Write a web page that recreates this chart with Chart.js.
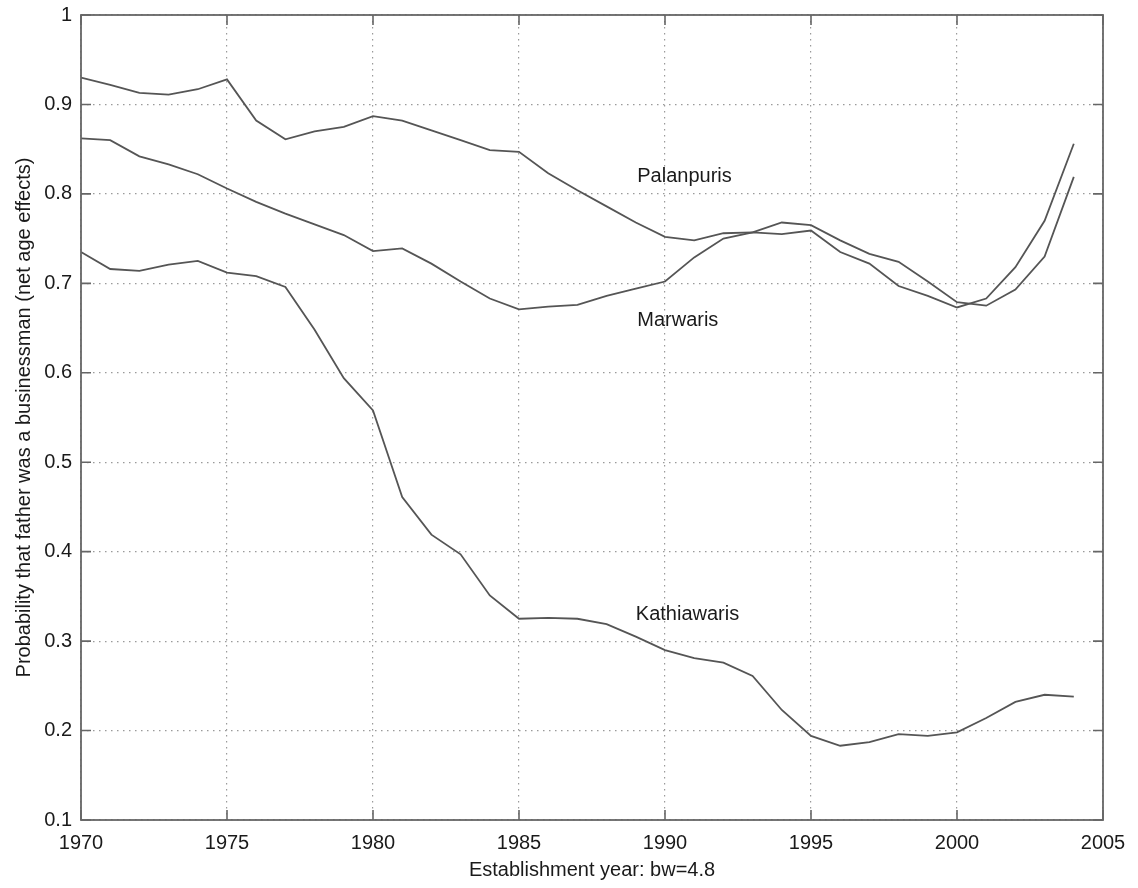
<!DOCTYPE html>
<html>
<head>
<meta charset="utf-8">
<script src="https://cdn.jsdelivr.net/npm/chart.js@4"></script>
<style>
  html, body { margin: 0; padding: 0; background: #fff; }
  #wrap { width: 1138px; height: 888px; }
</style>
</head>
<body>
<div id="wrap"><canvas id="chart" width="1138" height="888"></canvas></div>
<script>
// establishment years on the x axis
const years = [1970, 1971, 1972, 1973, 1974, 1975, 1976, 1977, 1978, 1979,
               1980, 1981, 1982, 1983, 1984, 1985, 1986, 1987, 1988, 1989,
               1990, 1991, 1992, 1993, 1994, 1995, 1996, 1997, 1998, 1999,
               2000, 2001, 2002, 2003, 2004];

// probability that father was a businessman
const palanpuris = [0.930, 0.922, 0.913, 0.911, 0.917, 0.928, 0.882, 0.861, 0.870, 0.875,
                    0.887, 0.882, 0.871, 0.860, 0.849, 0.847, 0.823, 0.804, 0.786, 0.768,
                    0.752, 0.748, 0.756, 0.757, 0.755, 0.759, 0.735, 0.722, 0.697, 0.686,
                    0.673, 0.683, 0.718, 0.770, 0.856];
const marwaris = [0.862, 0.860, 0.842, 0.833, 0.822, 0.806, 0.791, 0.778, 0.766, 0.754,
                  0.736, 0.739, 0.722, 0.702, 0.683, 0.671, 0.674, 0.676, 0.686, 0.694,
                  0.702, 0.729, 0.750, 0.757, 0.768, 0.765, 0.748, 0.733, 0.724, 0.702,
                  0.679, 0.675, 0.693, 0.730, 0.819];
const kathiawaris = [0.735, 0.716, 0.714, 0.721, 0.725, 0.712, 0.708, 0.696, 0.648, 0.594,
                     0.558, 0.461, 0.419, 0.397, 0.351, 0.325, 0.326, 0.325, 0.319, 0.305,
                     0.290, 0.281, 0.276, 0.261, 0.223, 0.194, 0.183, 0.187, 0.196, 0.194,
                     0.198, 0.214, 0.232, 0.240, 0.238];

// text labels placed next to each curve (data units)
const labelNames = ['Palanpuris', 'Marwaris', 'Kathiawaris'];
const labelX = [1989.05, 1989.05, 1989.0];
const labelY = [0.819, 0.659, 0.330];

const xTicks = [1970, 1975, 1980, 1985, 1990, 1995, 2000, 2005];
const yTicks = [0.1, 0.2, 0.3, 0.4, 0.5, 0.6, 0.7, 0.8, 0.9, 1];

const lineColor = '#555555';
const textColor = '#1a1a1a';
const fontFamily = '"Liberation Sans", Arial, Helvetica, sans-serif';

function toPoints(vals) {
    return years.map((yr, i) => ({ x: yr, y: vals[i] }));
}

function makeSet(name, vals) {
    return {
        label: name,
        data: toPoints(vals),
        borderColor: lineColor,
        borderWidth: 1.8,
        pointRadius: 0,
        tension: 0,
        fill: false
    };
}

// MATLAB-like frame: box on all sides with inward tick marks
const framePlugin = {
    id: 'frame',
    afterDatasetsDraw(chart) {
        const { ctx, chartArea: a, scales } = chart;
        const len = 10;
        ctx.save();
        ctx.strokeStyle = '#666666';
        ctx.lineWidth = 1.6;
        ctx.beginPath();
        xTicks.forEach(v => {
            const px = scales.x.getPixelForValue(v);
            ctx.moveTo(px, a.bottom); ctx.lineTo(px, a.bottom - len);
            ctx.moveTo(px, a.top); ctx.lineTo(px, a.top + len);
        });
        yTicks.forEach(v => {
            const py = scales.y.getPixelForValue(v);
            ctx.moveTo(a.left, py); ctx.lineTo(a.left + len, py);
            ctx.moveTo(a.right, py); ctx.lineTo(a.right - len, py);
        });
        ctx.stroke();
        ctx.lineWidth = 1.8;
        ctx.strokeRect(a.left, a.top, a.right - a.left, a.bottom - a.top);

        // curve labels
        ctx.fillStyle = textColor;
        ctx.font = '20px ' + fontFamily;
        ctx.textAlign = 'left';
        ctx.textBaseline = 'middle';
        labelNames.forEach((t, i) => {
            ctx.fillText(t, scales.x.getPixelForValue(labelX[i]), scales.y.getPixelForValue(labelY[i]));
        });
        ctx.restore();
    }
};

const ctx = document.getElementById('chart').getContext('2d');
new Chart(ctx, {
    type: 'line',
    data: {
        datasets: [
            makeSet('Palanpuris', palanpuris),
            makeSet('Marwaris', marwaris),
            makeSet('Kathiawaris', kathiawaris)
        ]
    },
    options: {
        responsive: false,
        animation: false,
        devicePixelRatio: 1,
        layout: { padding: { left: 0, right: 35, top: 15, bottom: 0 } },
        plugins: {
            legend: { display: false },
            tooltip: { enabled: false }
        },
        scales: {
            x: {
                type: 'linear',
                min: 1970,
                max: 2005,
                afterBuildTicks: s => { s.ticks = xTicks.map(v => ({ value: v })); },
                afterFit: s => { s.height = 68; },
                grid: { color: '#9a9a9a', lineWidth: 1.2, drawTicks: false },
                border: { display: false, dash: [1.5, 4.5] },
                ticks: {
                    color: textColor,
                    padding: 11,
                    maxRotation: 0,
                    font: { family: fontFamily, size: 20 },
                    callback: v => String(v)
                },
                title: {
                    display: true,
                    text: 'Establishment year: bw=4.8',
                    color: textColor,
                    font: { family: fontFamily, size: 20 },
                    padding: { top: 0, bottom: 6 }
                }
            },
            y: {
                type: 'linear',
                min: 0.1,
                max: 1,
                afterBuildTicks: s => { s.ticks = yTicks.map(v => ({ value: v })); },
                afterFit: s => { s.width = 81; s.paddingTop = 0; s.paddingBottom = 0; },
                grid: { color: '#9a9a9a', lineWidth: 1.2, drawTicks: false },
                border: { display: false, dash: [1.5, 4.5] },
                ticks: {
                    color: textColor,
                    padding: 9,
                    font: { family: fontFamily, size: 20 },
                    callback: v => String(Number(v.toFixed(1)))
                },
                title: {
                    display: true,
                    text: 'Probability that father was a businessman (net age effects)',
                    color: textColor,
                    font: { family: fontFamily, size: 20 },
                    padding: { top: 12, bottom: 0 }
                }
            }
        }
    },
    plugins: [framePlugin]
});
</script>
</body>
</html>
